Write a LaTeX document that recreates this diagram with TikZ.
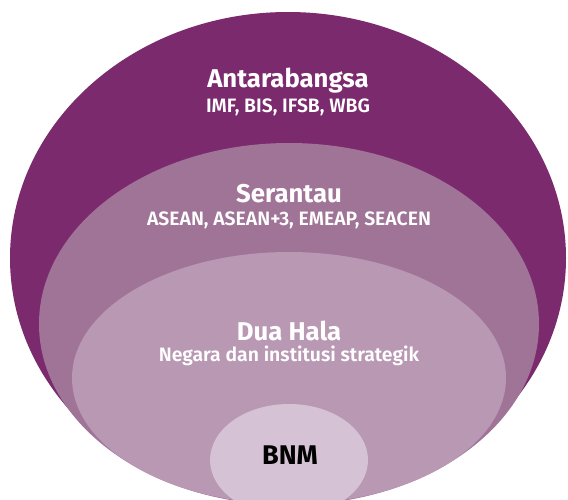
\documentclass[tikz,border=0pt]{standalone}
\usepackage{fontspec}
\setmainfont{Fira Sans}
\newfontfamily\semib{Fira Sans SemiBold}
\definecolor{outerc}{RGB}{123,42,110}
\definecolor{midc}{RGB}{160,116,151}
\definecolor{innerc}{RGB}{185,152,180}
\definecolor{corec}{RGB}{213,195,213}
\tikzset{
  title/.style={anchor=base,text=white,font=\fontsize{25.7}{28}\selectfont\bfseries,inner sep=0pt},
  sub/.style={anchor=base,text=white,font=\fontsize{19.4}{22}\selectfont\semib,inner sep=0pt},
}
\begin{document}
\begin{tikzpicture}[x=1pt,y=-1pt]
\useasboundingbox (0,0) rectangle (568,499);
\clip (0,0) rectangle (568,499);
\fill[outerc] (288,258) ellipse [x radius=278, y radius=246];
\fill[midc] (289,324) ellipse [x radius=250, y radius=181];
\fill[innerc] (289,378) ellipse [x radius=217, y radius=126];
\fill[corec] (289,460) ellipse [x radius=79, y radius=56];
\node[title] (t1) at (288,87) {Antarabangsa};
\node[sub] (s1) at (288,112) {IMF, BIS, IFSB, WBG};
\node[title] (t2) at (289,202) {Serantau};
\node[sub] (s2) at (289,225) {ASEAN, ASEAN+3, EMEAP, SEACEN};
\node[title] (t3) at (289,340) {Dua Hala};
\node[sub] (s3) at (289,361) {Negara dan institusi strategik};
\node[title,text=black,font=\fontsize{27}{30}\selectfont\bfseries] (t4) at (290,464) {BNM};
\end{tikzpicture}
\end{document}
